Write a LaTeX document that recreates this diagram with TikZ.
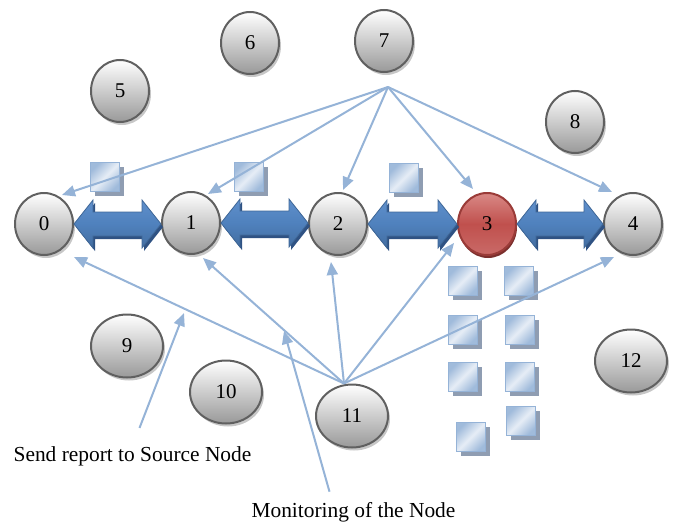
\documentclass[tikz,border=0pt]{standalone}
\usepackage{fontspec}
\setmainfont{Liberation Serif}
\usetikzlibrary{calc,arrows.meta,shadows,shapes.geometric}
\definecolor{lblue}{HTML}{95B3D7}
\definecolor{dblue}{HTML}{4F81BD}
\definecolor{dbluelt}{HTML}{5F8FCB}
\definecolor{dbluedk}{HTML}{2F5283}
\definecolor{nodeedge}{HTML}{606060}
\definecolor{redfill}{HTML}{C0504D}
\definecolor{redlight}{HTML}{D98986}
\definecolor{rededge}{HTML}{9A3B38}
\definecolor{sqfill}{HTML}{E6EDF6}
\definecolor{sqshadow}{HTML}{8F9DB2}
\newcommand\dblarrow[2]{%
  \fill[dbluedk] let \p1=(#1.east), \p2=(#2.west) in
    (\x1+2pt,\y1-3pt) -- (\x1+21pt,\y1+21pt) -- (\x1+21pt,\y1+9pt) -- (\x2-17pt,\y1+9pt) -- (\x2-17pt,\y1+21pt) -- (\x2+2pt,\y1-3pt) -- (\x2-17pt,\y1-27pt) -- (\x2-17pt,\y1-15pt) -- (\x1+21pt,\y1-15pt) -- (\x1+21pt,\y1-27pt) -- cycle;
  \path[arrowbody] let \p1=(#1.east), \p2=(#2.west) in
    (\x1,\y1) -- (\x1+19pt,\y1+24pt) -- (\x1+19pt,\y1+12pt) -- (\x2-19pt,\y1+12pt) -- (\x2-19pt,\y1+24pt) -- (\x2,\y1) -- (\x2-19pt,\y1-24pt) -- (\x2-19pt,\y1-12pt) -- (\x1+19pt,\y1-12pt) -- (\x1+19pt,\y1-24pt) -- cycle;}
\begin{document}
\begin{tikzpicture}[x=1pt,y=-1pt,
  every node/.style={font=\fontsize{21}{25}\selectfont},
  ball/.style={ellipse, minimum width=58pt, minimum height=62pt, inner sep=0pt,
    draw=nodeedge, line width=2pt, top color=white, bottom color=black!40,
    drop shadow={shadow xshift=2pt, shadow yshift=-3pt, fill=black!22, opacity=1}},
  wideball/.style={ball, minimum width=72pt, minimum height=63pt},
  redball/.style={ellipse, minimum width=58pt, minimum height=62pt, inner sep=0pt,
    draw=rededge, line width=2pt, top color=redlight, bottom color=redfill!85!white, middle color=redfill,
    drop shadow={shadow xshift=1pt, shadow yshift=-3pt, fill=rededge!80!black, opacity=1}},
  sq/.style={rectangle, minimum size=29pt, inner sep=0pt, draw=lblue, line width=1.6pt,
    shading=axis, top color=lblue!90, bottom color=lblue!90, middle color=sqfill, shading angle=45,
    drop shadow={shadow xshift=4pt, shadow yshift=-4pt, fill=sqshadow, opacity=1}},
  arrowbody/.style={draw=dblue!80!black, line width=0.8pt, top color=dbluelt, bottom color=dblue!85!black, middle color=dblue},
  conn/.style={draw=lblue, line width=2pt, -{Triangle[length=13pt,width=11pt]}},
  lab/.style={inner sep=0pt, anchor=base, font=\fontsize{21.4}{25}\selectfont}]
\useasboundingbox (0,0) rectangle (683,522);
% squares
\node[sq] (s1) at (105,177) {};
\node[sq] (s2) at (249,177) {};
\node[sq] (s3) at (404,178) {};
\node[sq] (s4) at (463,281) {};
\node[sq] (s5) at (519,281) {};
\node[sq] (s6) at (463,330) {};
\node[sq] (s7) at (520,330) {};
\node[sq] (s8) at (463,377) {};
\node[sq] (s9) at (520,377) {};
\node[sq] (s10) at (471,437) {};
\node[sq] (s11) at (521,421) {};
% nodes
\node[ball] (n0) at (44,224) {0};
\node[ball] (n1) at (191,223) {1};
\node[ball] (n2) at (338,224) {2};
\node[redball] (n3) at (487,224) {3};
\node[ball] (n4) at (633,224) {4};
\node[ball] (n5) at (120,91) {5};
\node[ball] (n6) at (250,43) {6};
\node[ball] (n7) at (384,41) {7};
\node[ball] (n8) at (575,122) {8};
\node[wideball] (n9) at (127,346) {9};
\node[wideball] (n10) at (226,392) {10};
\node[wideball] (n11) at (352,416) {11};
\node[wideball] (n12) at (631,361) {12};
% double arrows
\dblarrow{n0}{n1}
\dblarrow{n1}{n2}
\dblarrow{n2}{n3}
\dblarrow{n3}{n4}
% origins
\coordinate (o7) at ($(n7.south)+(4,14)$);
\coordinate (o11) at ($(n11.north)+(-8,0)$);
\draw[conn] (o7) -- ($(n0)+(18,-29)$);
\draw[conn] (o7) -- ($(n1)+(17,-29)$);
\draw[conn] (o7) -- ($(n2)+(5,-34)$);
\draw[conn] (o7) -- ($(n3)+(-14,-35)$);
\draw[conn] (o7) -- ($(n4)+(-21,-32)$);
\draw[conn] (o11) -- ($(n0)+(30,33)$);
\draw[conn] (o11) -- ($(n1)+(12,35)$);
\draw[conn] (o11) -- ($(n2)+(-7,38)$);
\draw[conn] (o11) -- ($(n3)+(-33,19)$);
\draw[conn] (o11) -- ($(n4)+(-19,33)$);
% labels
\node[lab] (l1) at (132.5,461) {Send report to Source Node};
\node[lab] (l2) at (353.5,517) {Monitoring of the Node};
\coordinate (t1) at (184,313);
\coordinate (t2) at (284,331);
\draw[conn] ($(l1.north)+(7,-18)$) -- (t1);
\draw[conn] ($(l2.north)+(-24,-10)$) -- (t2);
\end{tikzpicture}
\end{document}
